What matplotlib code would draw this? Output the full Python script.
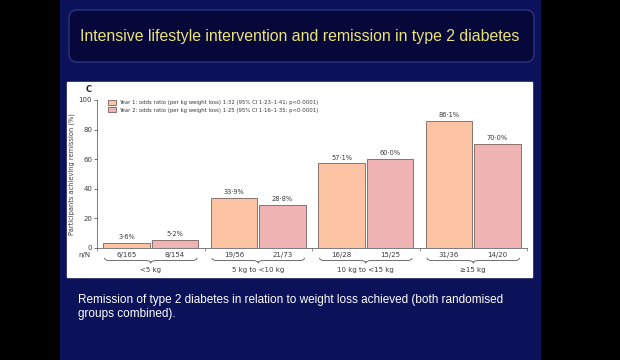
import matplotlib
matplotlib.use("Agg")
import matplotlib.pyplot as plt
import numpy as np
from matplotlib.patches import Rectangle, FancyBboxPatch, PathPatch
from matplotlib.path import Path
from matplotlib.transforms import blended_transform_factory

# Data
groups = ["<5 kg", "5 kg to <10 kg", "10 kg to <15 kg", "\u226515 kg"]
year1 = [3.6, 33.9, 57.1, 86.1]
year2 = [5.2, 28.8, 60.0, 70.0]
counts1 = ["6/165", "19/56", "16/28", "31/36"]
counts2 = ["8/154", "21/73", "15/25", "14/20"]
yticks = [0, 20, 40, 60, 80, 100]
legend_labels = [
    "Year 1: odds ratio (per kg weight loss) 1\u00b732 (95% CI 1\u00b723\u20131\u00b741; p<0\u00b70001)",
    "Year 2: odds ratio (per kg weight loss) 1\u00b725 (95% CI 1\u00b716\u20131\u00b735; p<0\u00b70001)",
]

title = "Intensive lifestyle intervention and remission in type 2 diabetes"
caption = ("Remission of type 2 diabetes in relation to weight loss achieved (both randomised\n"
           "groups combined).")

c_year1 = "#fcc4a2"
c_year2 = "#f0b3b3"
c_edge = "#7a625c"
c_text = "#3a3a3a"
navy = "#0c1259"


def pct(v):
    return f"{v:.1f}%".replace(".", "\u00b7")


def brace(ax, x0, x1, y, h, d):
    tr = blended_transform_factory(ax.transData, ax.transAxes)
    xm = (x0 + x1) / 2
    verts = [(x0, y + h), (x0, y), (x0 + d, y), (xm - d, y),
             (xm, y), (xm, y - h), (xm, y), (xm + d, y),
             (x1 - d, y), (x1, y), (x1, y + h)]
    codes = [Path.MOVETO, Path.CURVE3, Path.CURVE3, Path.LINETO,
             Path.CURVE3, Path.CURVE3, Path.CURVE3, Path.CURVE3,
             Path.LINETO, Path.CURVE3, Path.CURVE3]
    ax.add_patch(PathPatch(Path(verts, codes), transform=tr, fill=False,
                           edgecolor="#555555", lw=0.6, clip_on=False))


def draw_slide():
    fig = plt.figure(figsize=(6.2, 3.6), dpi=100, facecolor="black")

    # background in pixel coordinates
    bg = fig.add_axes([0, 0, 1, 1])
    bg.set_xlim(0, 620)
    bg.set_ylim(360, 0)
    bg.axis("off")
    bg.add_patch(Rectangle((60, 0), 480, 360, color=navy, zorder=0))
    bg.add_patch(FancyBboxPatch((69, 10), 465, 52, boxstyle="round,pad=0,rounding_size=8",
                                facecolor="#050838", edgecolor="#2c3480", lw=1.0, zorder=1))
    bg.text(300, 36, title, color="#ebe27a", fontsize=11.4, family="Liberation Sans",
            ha="center", va="center", zorder=2)
    bg.add_patch(Rectangle((67, 82), 465, 195, color="white", zorder=1))
    bg.text(78, 294, caption, color="white", fontsize=8.5, family="Liberation Sans",
            ha="left", va="top", linespacing=1.2, zorder=2)
    bg.text(89, 90, "C", color="#222222", fontsize=6, fontweight="bold",
            ha="center", va="center", zorder=2)

    # chart
    ax = fig.add_axes([97 / 620, 112 / 360, 430 / 620, 148 / 360])
    ax.set_facecolor("none")
    x = np.arange(len(groups))
    w = 0.43
    b1 = ax.bar(x - w / 2 - 0.01, year1, w, color=c_year1, edgecolor=c_edge, lw=0.6,
                label=legend_labels[0])
    b2 = ax.bar(x + w / 2 + 0.01, year2, w, color=c_year2, edgecolor=c_edge, lw=0.6,
                label=legend_labels[1])
    for bars, vals in ((b1, year1), (b2, year2)):
        for r, v in zip(bars, vals):
            ax.text(r.get_x() + r.get_width() / 2, v + 2, pct(v), ha="center", va="bottom",
                    fontsize=4.8, color=c_text)

    ax.set_xlim(-0.5, len(groups) - 0.5)
    ax.set_ylim(0, 100)
    ax.set_yticks(yticks)
    ax.tick_params(axis="y", labelsize=5, colors=c_text, length=2, width=0.5, pad=1.5)
    ax.set_xticks(np.arange(len(groups) + 1) - 0.5)
    ax.set_xticklabels([])
    ax.tick_params(axis="x", length=2, width=0.5, colors="#666666")
    for s in ("top", "right"):
        ax.spines[s].set_visible(False)
    for s in ("left", "bottom"):
        ax.spines[s].set_linewidth(0.6)
        ax.spines[s].set_color("#666666")
    ax.set_ylabel("Participants achieving remission (%)", fontsize=4.8, color=c_text)
    ax.yaxis.set_label_coords(-0.052, 0.5)

    tr = blended_transform_factory(ax.transData, ax.transAxes)
    ax.text(-0.62, -0.047, "n/N", transform=tr, ha="center", va="center", fontsize=5,
            color=c_text, clip_on=False)
    for i in x:
        ax.text(i - w / 2 - 0.01, -0.047, counts1[i], transform=tr, ha="center", va="center",
                fontsize=5, color=c_text)
        ax.text(i + w / 2 + 0.01, -0.047, counts2[i], transform=tr, ha="center", va="center",
                fontsize=5, color=c_text)
        brace(ax, i - 0.43, i + 0.43, -0.085, 0.018, 0.05)
        ax.text(i, -0.15, groups[i], transform=tr, ha="center", va="center", fontsize=5,
                color=c_text)

    ax.legend(loc="upper left", bbox_to_anchor=(0.02, 1.015), fontsize=3.9, frameon=False,
              handlelength=1.6, handleheight=1.1, handletextpad=0.5, labelspacing=0.35,
              labelcolor=c_text, borderaxespad=0)

    fig.savefig("out.png", dpi=100, facecolor="black")


if __name__ == "__main__":
    draw_slide()
